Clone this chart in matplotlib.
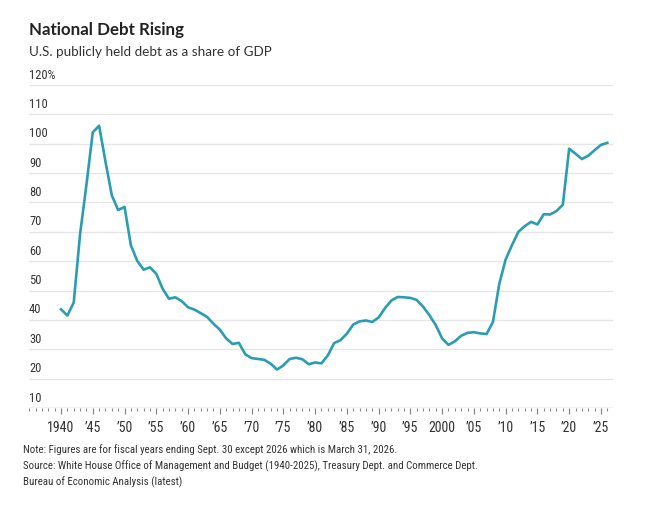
import matplotlib
matplotlib.use("Agg")
import matplotlib.pyplot as plt
from matplotlib import font_manager
from matplotlib.ticker import MultipleLocator

# debt held by the public, % of GDP
years = list(range(1940, 2027))
debt = [
    43.6, 41.5, 45.9, 69.2, 86.0, 103.9, 106.1, 93.9, 82.4, 77.4,
    78.5, 65.4, 60.1, 57.1, 57.9, 55.7, 50.6, 47.2, 47.7, 46.4,
    44.3, 43.5, 42.3, 41.0, 38.7, 36.7, 33.7, 31.8, 32.2, 28.3,
    27.0, 26.7, 26.4, 25.1, 23.1, 24.5, 26.7, 27.1, 26.6, 24.9,
    25.5, 25.2, 27.9, 32.1, 33.1, 35.3, 38.4, 39.5, 39.8, 39.3,
    40.8, 44.0, 46.6, 47.8, 47.7, 47.5, 46.8, 44.5, 41.6, 38.2,
    33.7, 31.5, 32.7, 34.6, 35.6, 35.8, 35.4, 35.2, 39.3, 52.3,
    60.6, 65.5, 70.0, 71.9, 73.4, 72.5, 76.0, 75.9, 77.1, 79.2,
    98.3, 96.6, 94.8, 95.9, 97.8, 99.6, 100.3,
]
y_ticks = [10, 20, 30, 40, 50, 60, 70, 80, 90, 100, 110, 120]
x_ticks = list(range(1940, 2026, 5))
x_labels = ["1940"] + ["\u2019%02d" % (y % 100) for y in x_ticks[1:]]
x_labels[x_ticks.index(2000)] = "2000"

title = "National Debt Rising"
subtitle = "U.S. publicly held debt as a share of GDP"
notes = [
    "Note: Figures are for fiscal years ending Sept. 30 except 2026 which is March 31, 2026.",
    "Source: White House Office of Management and Budget (1940-2025), Treasury Dept. and Commerce Dept.",
    "Bureau of Economic Analysis (latest)",
]


def pick(names):
    have = {f.name for f in font_manager.fontManager.ttflist}
    for n in names:
        if n in have:
            return n
    return "DejaVu Sans"


head_font = pick(["Lato", "Roboto", "DejaVu Sans"])
narrow_font = pick(["Roboto Condensed", "Archivo Narrow", "Asap Condensed",
                    "Liberation Sans Narrow", "Roboto"])

text_col = "#333333"
line_col = "#2a9db3"

fig = plt.figure(figsize=(6.52, 5.12), dpi=100)
ax = fig.add_axes([29 / 652, (512 - 408) / 512, (613 - 29) / 652, (408 - 85) / 512])

ax.plot(years, debt, color=line_col, lw=1.9, solid_joinstyle="round", zorder=3)

ax.set_xlim(1934.96, 2026.9)
ax.set_ylim(10, 120)

for v in y_ticks:
    ax.axhline(v, color="#bbbbbb" if v == 10 else "#e6e6e6", lw=1.0, zorder=1)
    lab = "120%" if v == 120 else str(v)
    ax.annotate(lab, (0, v), xycoords=("axes fraction", "data"),
                xytext=(0, 2.5), textcoords="offset points",
                ha="left", va="bottom", fontsize=9, color=text_col,
                family=narrow_font)

for s in ax.spines.values():
    s.set_visible(False)
ax.set_yticks([])
ax.set_xticks(x_ticks)
ax.set_xticklabels(x_labels, family=narrow_font, fontsize=10, color=text_col)
ax.xaxis.set_minor_locator(MultipleLocator(1))
ax.tick_params(axis="x", which="major", length=4, width=0.9, color="#888888", pad=5)
ax.tick_params(axis="x", which="minor", length=2, width=0.8, color="#888888")

fig.text(29 / 652, 1 - 30 / 512, title, fontsize=12.2, fontweight="bold",
         color="#222222", family=head_font, va="center")
fig.text(29 / 652, 1 - 52 / 512, subtitle, fontsize=9.7, color=text_col,
         family=head_font, va="center")
for i, line in enumerate(notes):
    fig.text(23 / 652, 1 - (450 + 16 * i) / 512, line, fontsize=7.8,
             color=text_col, family=narrow_font, va="center")

fig.savefig("out.png", dpi=100)
